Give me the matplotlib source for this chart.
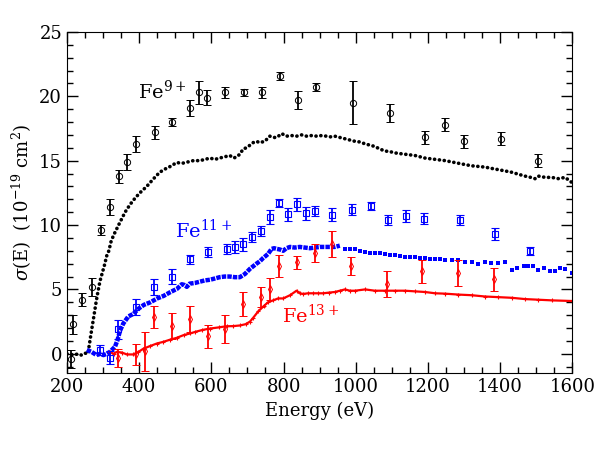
import numpy as np
import matplotlib
matplotlib.use("Agg")
import matplotlib.pyplot as plt

plt.rcParams['font.family'] = ['DejaVu Serif']
plt.rcParams['mathtext.fontset'] = 'dejavuserif'

# Fe9+ curva medida (puntos negros densos)
e_fe9 = [200, 210, 220, 230, 240, 250, 258, 268, 275, 280, 285, 289, 292, 298, 304, 310,
         316, 322, 329, 336, 343, 352, 361, 375, 389, 402, 421, 440, 457, 475, 490, 503,
         520, 535, 550, 568, 583, 596, 610, 623, 637, 651, 662, 670, 679, 688, 697, 707,
         716, 725, 734, 748, 762, 772, 781, 795, 808, 822, 836, 850, 864, 878, 892, 906,
         919, 930, 942, 956, 970, 984, 998, 1012, 1026, 1040, 1053, 1067, 1081, 1095,
         1109, 1122, 1136, 1150, 1164, 1178, 1192, 1206, 1220, 1234, 1248, 1266, 1284,
         1302, 1321, 1340, 1358, 1376, 1395, 1414, 1432, 1450, 1469, 1485, 1497, 1506,
         1525, 1543, 1562, 1580, 1599]
s_fe9 = [0.0, -0.05, -0.1, 0.0, -0.1, 0.05, 0.0, 1.8, 3.0, 3.9, 4.7, 5.3, 5.7, 6.3, 6.9, 7.6,
         8.0, 8.7, 9.2, 9.6, 10.0, 10.5, 11.0, 11.6, 12.1, 12.5, 13.0, 13.6, 14.1, 14.4, 14.6, 14.85,
         14.8, 14.9, 15.0, 15.0, 15.1, 15.2, 15.1, 15.2, 15.3, 15.4, 15.2, 15.3, 15.5, 15.9, 16.0, 16.2,
         16.4, 16.5, 16.4, 16.5, 16.9, 16.8, 16.8, 17.1, 16.9, 16.95, 16.9, 17.0, 16.9, 16.95, 16.9, 16.95,
         16.9, 16.85, 16.9, 16.8, 16.7, 16.6, 16.5, 16.45, 16.3, 16.2, 16.1, 15.9, 15.75, 15.7,
         15.6, 15.55, 15.5, 15.45, 15.4, 15.3, 15.2, 15.15, 15.1, 15.05, 15.0, 14.9, 14.8,
         14.7, 14.6, 14.55, 14.5, 14.4, 14.3, 14.2, 14.1, 13.95, 13.8, 13.7, 13.6, 13.8,
         13.7, 13.7, 13.6, 13.7, 13.3]

# Fe9+ puntos con barras de error (circulos)
e_fe9_pts = [210, 217, 243, 268, 293, 318, 343, 367, 392, 443, 492, 540, 566, 589, 639, 690,
             740, 789, 839, 890, 993, 1095, 1193, 1248, 1300, 1402, 1506]
s_fe9_pts = [-0.4, 2.3, 4.2, 5.2, 9.6, 11.4, 13.8, 14.9, 16.3, 17.2, 18.0, 19.1, 20.3, 19.9, 20.3, 20.3,
             20.3, 21.6, 19.7, 20.7, 19.5, 18.7, 16.8, 17.8, 16.5, 16.7, 15.0]
err_fe9_pts = [0.7, 0.75, 0.5, 0.7, 0.4, 0.6, 0.5, 0.6, 0.6, 0.5, 0.3, 0.6, 0.9, 0.6, 0.4, 0.3,
               0.4, 0.3, 0.7, 0.3, 1.65, 0.7, 0.5, 0.5, 0.5, 0.5, 0.5]

# Fe11+ curva medida (cuadrados azules)
e_fe11 = [255, 268, 282, 292, 301, 310, 319, 333, 340, 347, 356, 370, 384, 398, 413, 431,
          450, 468, 487, 505, 518, 525, 532, 540, 554, 568, 582, 596, 610, 623, 637, 651,
          665, 679, 693, 707, 716, 725, 735, 744, 757, 767, 774, 781, 790, 799, 808, 818,
          831, 845, 859, 873, 887, 901, 915, 928, 942, 956]
s_fe11 = [0.3, 0.15, -0.1, 0.0, -0.1, 0.0, 0.15, 0.55, 1.06, 1.8, 2.35, 2.9, 3.1, 3.5, 3.8, 4.0,
          4.3, 4.5, 4.8, 5.05, 5.4, 5.35, 5.2, 5.45, 5.5, 5.6, 5.7, 5.75, 5.85, 5.95, 6.0, 6.0,
          5.95, 5.95, 6.2, 6.6, 6.8, 7.0, 7.2, 7.45, 7.75, 8.15, 8.2, 8.15, 8.1, 8.0, 8.2, 8.3,
          8.25, 8.3, 8.25, 8.2, 8.25, 8.3, 8.3, 8.3, 8.3, 8.4]
e_fe11_hi = [970, 984, 998, 1012, 1026, 1040, 1053, 1067, 1081, 1095, 1109, 1122, 1136, 1150,
             1164, 1178, 1192, 1206, 1220, 1234, 1248, 1266, 1284, 1302, 1321, 1340, 1358,
             1376, 1395, 1414, 1432, 1446, 1465, 1478, 1492, 1506, 1523, 1539, 1552, 1566,
             1580, 1599]
s_fe11_hi = [8.15, 8.15, 8.15, 8.0, 7.9, 7.85, 7.8, 7.8, 7.75, 7.7, 7.7, 7.6, 7.55, 7.5,
             7.5, 7.45, 7.45, 7.4, 7.4, 7.35, 7.3, 7.25, 7.25, 7.15, 7.1, 7.0, 7.1,
             7.05, 7.05, 7.1, 6.5, 6.7, 6.8, 6.8, 6.8, 6.5, 6.7, 6.4, 6.4, 6.65,
             6.6, 6.25]

# Fe11+ puntos con barras de error
e_fe11_pts = [292, 318, 341, 391, 441, 490, 540, 591, 642, 665, 688, 713, 737, 762, 788, 812,
              838, 862, 887, 935, 989, 1041, 1090, 1139, 1189, 1289, 1386, 1483]
s_fe11_pts = [0.3, -0.3, 1.9, 3.65, 5.2, 6.0, 7.35, 7.9, 8.15, 8.3, 8.5, 9.05, 9.55, 10.6, 11.7, 10.85,
              11.6, 10.9, 11.1, 10.8, 11.2, 11.5, 10.4, 10.7, 10.5, 10.4, 9.3, 8.0]
err_fe11_pts = [0.4, 0.5, 0.75, 0.6, 0.6, 0.6, 0.35, 0.4, 0.4, 0.45, 0.5, 0.4, 0.4, 0.55, 0.3, 0.5,
                0.5, 0.5, 0.4, 0.5, 0.4, 0.3, 0.4, 0.5, 0.4, 0.4, 0.45, 0.3]

# Fe13+ curva medida (rojo)
e_fe13 = [319, 329, 338, 352, 366, 384, 398, 412, 430, 449, 467, 486, 504, 523, 541, 555,
          575, 596, 620, 642, 660, 679, 695, 707, 716, 730, 745, 757, 771, 785, 799, 818,
          836, 845, 854, 868, 882, 896, 910, 925, 942, 956, 970, 984, 998, 1026, 1053,
          1081, 1109, 1136, 1164, 1192, 1220, 1248, 1284, 1321, 1358, 1395, 1432, 1469,
          1506, 1543, 1599]
s_fe13 = [0.15, 0.0, 0.15, 0.1, -0.05, -0.05, 0.15, 0.4, 0.6, 0.8, 0.93, 1.1, 1.24, 1.45, 1.58, 1.7,
          1.85, 1.96, 2.05, 2.14, 2.15, 2.2, 2.3, 2.5, 2.8, 3.3, 3.7, 4.0, 4.15, 4.3, 4.3, 4.55,
          4.9, 4.7, 4.65, 4.7, 4.7, 4.7, 4.7, 4.75, 4.8, 4.9, 5.0, 4.9, 4.9, 5.0, 4.9,
          4.9, 4.9, 4.9, 4.85, 4.8, 4.7, 4.67, 4.6, 4.55, 4.45, 4.4, 4.35, 4.25,
          4.2, 4.15, 4.1]

# Fe13+ puntos con barras de error (diamantes)
e_fe13_pts = [341, 391, 417, 442, 490, 540, 591, 639, 688, 738, 763, 788, 838, 887, 935, 987,
              1087, 1185, 1284, 1383]
s_fe13_pts = [-0.35, -0.05, 0.2, 2.85, 2.15, 2.7, 1.35, 1.95, 3.85, 4.4, 5.0, 6.8, 7.1, 7.85, 8.5, 6.8,
              5.4, 6.4, 6.3, 5.8]
err_fe13_pts = [0.7, 0.85, 1.5, 0.85, 1.0, 1.0, 0.9, 1.1, 0.95, 0.8, 0.85, 0.85, 0.5, 0.7, 1.0, 0.7,
                1.0, 0.9, 1.0, 0.9]

fig = plt.figure(figsize=(5.98, 4.49), dpi=100)
ax = fig.add_axes([0.112, 0.169, 0.845, 0.760])

# curvas densas
ax.plot(e_fe9, s_fe9, color='black', lw=2.6, linestyle=(0, (0.05, 1.3)),
        dash_capstyle='round', solid_capstyle='round')
ax.plot(e_fe11, s_fe11, color='blue', lw=3.2, linestyle=(0, (1.0, 0.25)))
ax.plot(e_fe11_hi, s_fe11_hi, 's', color='blue', ms=3.0, mew=0)
ax.plot(e_fe13, s_fe13, color='red', lw=1.6)
ax.plot(e_fe13, s_fe13, '+', color='red', ms=2.5, mew=0.8)

# puntos con barras de error
ax.errorbar(e_fe9_pts, s_fe9_pts, yerr=err_fe9_pts, fmt='o', color='black', mfc='none',
            ms=4.5, mew=0.7, elinewidth=1.3, capsize=3, capthick=1.3)
ax.errorbar(e_fe11_pts, s_fe11_pts, yerr=err_fe11_pts, fmt='s', color='blue', mfc='none',
            ms=5, mew=0.8, elinewidth=1.3, capsize=3, capthick=1.3)
ax.errorbar(e_fe13_pts, s_fe13_pts, yerr=err_fe13_pts, fmt='d', color='red', mfc='none',
            ms=4, mew=0.7, elinewidth=1.3, capsize=3, capthick=1.3)

ax.text(396, 20.4, r'Fe$^{9+}$', color='black', fontsize=14, va='center')
ax.text(499, 9.6, r'Fe$^{11+}$', color='blue', fontsize=14, va='center')
ax.text(795, 3.0, r'Fe$^{13+}$', color='red', fontsize=14, va='center')

ax.set_xlim(200, 1600)
ax.set_ylim(-1.5, 25)
ax.set_xticks(np.arange(200, 1601, 200))
ax.set_xticks(np.arange(200, 1601, 50), minor=True)
ax.set_yticks(np.arange(0, 26, 5))
ax.set_yticks(np.arange(-1, 26, 1), minor=True)
ax.tick_params(which='both', direction='in', top=True, right=True, labelsize=13)
ax.tick_params(which='major', length=8, width=1)
ax.tick_params(which='minor', length=4, width=1)
ax.set_xlabel('Energy (eV)', fontsize=13)
ax.set_ylabel(r'$\sigma$(E)  (10$^{-19}$ cm$^2$)', fontsize=13)

fig.savefig('out.png', dpi=100)
